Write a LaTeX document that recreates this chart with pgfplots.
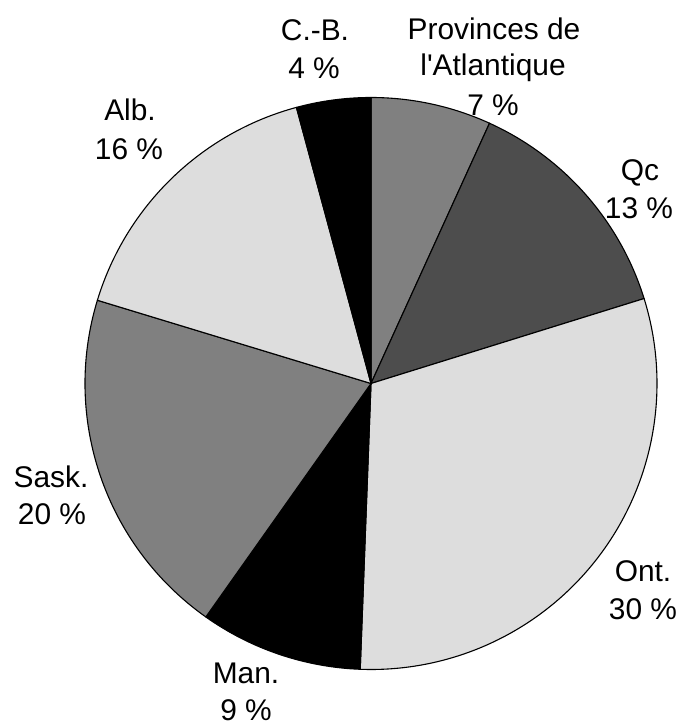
\documentclass[border=0pt]{standalone}
\usepackage{fontspec}
\newfontfamily\lab{Liberation Sans}
\usepackage{pgfplots}
\pgfplotsset{compat=1.18}

\definecolor{midgray}{RGB}{128,128,128}
\definecolor{darkgray}{RGB}{77,77,77}
\definecolor{lightgray}{RGB}{221,221,221}

\tikzset{lbl/.style={font=\lab\fontsize{30}{35}\selectfont, anchor=base, inner sep=0pt}}

% pie centre and radius in pixel units (1 unit = 1bp)
\newcommand{\cx}{371}
\newcommand{\cy}{343.5}
% #1 = cumulative share before the slice, #2 = share, #3 = fill
\newcommand{\slice}[3]{%
  \filldraw[fill=#3,draw=black,line width=1.1bp,line join=round]
    (axis cs:\cx,\cy) -- ++({90-3.6*#1}:286bp)
    arc[start angle={90-3.6*#1},end angle={90-3.6*(#1+#2)},radius=286bp] -- cycle;}

\begin{document}
\begin{tikzpicture}
\begin{axis}[
  x=1bp, y=1bp,
  xmin=0, xmax=683, ymin=0, ymax=727,
  hide axis, clip=false,
]
\path (axis cs:0,0) rectangle (axis cs:683,727);
\slice{0}{6.8}{midgray}      % Provinces de l'Atlantique
\slice{6.8}{13.4}{darkgray}  % Qc
\slice{20.2}{30.4}{lightgray}% Ont.
\slice{50.6}{9.2}{black}     % Man.
\slice{59.8}{19.9}{midgray}  % Sask.
\slice{79.7}{16.1}{lightgray}% Alb.
\slice{95.8}{4.2}{black}     % C.-B.

\node[lbl] at (axis cs:315,686) {C.-B.};
\node[lbl] at (axis cs:314,648) {4 \%};
\node[lbl] at (axis cs:494,687) {Provinces de};
\node[lbl] at (axis cs:493,651) {l'Atlantique};
\node[lbl] at (axis cs:493,611) {7 \%};
\node[lbl] at (axis cs:640,546) {Qc};
\node[lbl] at (axis cs:639,508) {13 \%};
\node[lbl] at (axis cs:643,145) {Ont.};
\node[lbl] at (axis cs:643,107) {30 \%};
\node[lbl] at (axis cs:246,43) {Man.};
\node[lbl] at (axis cs:246,6) {9 \%};
\node[lbl] at (axis cs:51,239) {Sask.};
\node[lbl] at (axis cs:52,202) {20 \%};
\node[lbl] at (axis cs:130,606) {Alb.};
\node[lbl] at (axis cs:129,567) {16 \%};
\end{axis}
\end{tikzpicture}
\end{document}
